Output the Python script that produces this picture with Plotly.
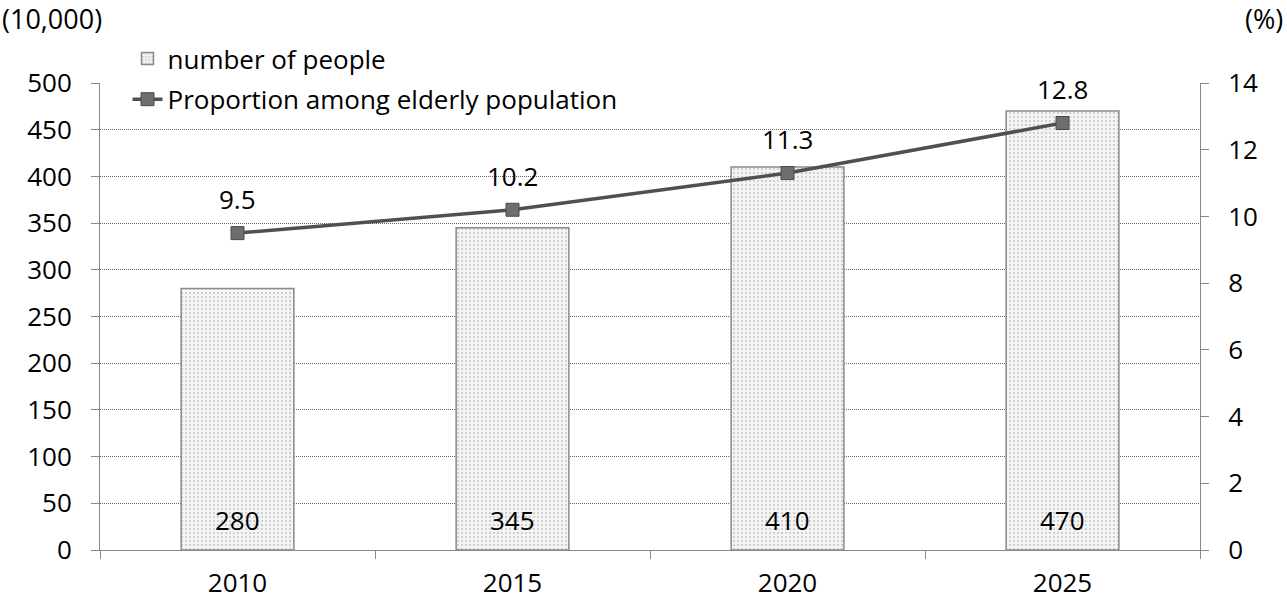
import plotly.graph_objects as go

years = ["2010", "2015", "2020", "2025"]
people = [280, 345, 410, 470]
proportion = [9.5, 10.2, 11.3, 12.8]
left_ticks = list(range(0, 501, 50))
right_ticks = list(range(0, 15, 2))

FONT = "Open Sans"
FS = 26
fig = go.Figure()

fig.add_trace(go.Bar(
    x=years, y=people, name="number of people",
    width=0.41,
    marker=dict(color="#eeeeee", line=dict(color="#8a8a8a", width=1.5),
                pattern=dict(shape=".", size=4, solidity=0.2, fgcolor="#c4c4c4",
                             bgcolor="#f4f4f4", fillmode="replace")),
    legendgroup="a",
))

fig.add_trace(go.Scatter(
    x=years, y=proportion, name="Proportion among elderly population",
    yaxis="y2", mode="lines+markers",
    line=dict(color="#505050", width=3.5),
    marker=dict(symbol="square", size=13, color="#6e6e6e", line=dict(color="#4a4a4a", width=1)),
    legendgroup="b",
))

annotations = []
for i, v in enumerate(people):
    annotations.append(dict(x=i, y=0, xref="x", yref="y", text=str(v), showarrow=False,
                            yanchor="bottom", yshift=10, font=dict(size=FS, color="#000", family=FONT)))
for i, v in enumerate(proportion):
    annotations.append(dict(x=i, y=v, xref="x", yref="y2", text=str(v), showarrow=False,
                            yanchor="bottom", yshift=14, font=dict(size=FS, color="#000", family=FONT)))
annotations.append(dict(x=-100/1100, y=1 + 65/467, xref="paper", yref="paper", text="(10,000)",
                        showarrow=False, xanchor="left", yanchor="middle", font=dict(size=27, family=FONT, color="#000")))
annotations.append(dict(x=1 + 85/1100, y=1 + 65/467, xref="paper", yref="paper", text="(%)",
                        showarrow=False, xanchor="right", yanchor="middle", font=dict(size=27, family=FONT, color="#000")))

fig.update_layout(
    width=1287, height=605,
    margin=dict(l=100, r=87, t=83, b=55),
    paper_bgcolor="white", plot_bgcolor="white",
    font=dict(family=FONT, size=FS, color="#000"),
    bargap=0.59,
    showlegend=True,
    legend=dict(x=0.025, y=1 + 48/467, xanchor="left", yanchor="top",
                bgcolor="rgba(0,0,0,0)", font=dict(size=FS, family=FONT),
                tracegroupgap=4, itemwidth=30),
    xaxis=dict(type="category", range=[-0.5, 3.5], autorange=False, automargin=False,
               showline=True, linecolor="#888", linewidth=1,
               ticks="outside", tickson="boundaries", ticklen=8, tickcolor="#888",
               showgrid=False, tickfont=dict(size=FS), tickangle=0, ticklabelstandoff=10),
    yaxis=dict(range=[0, 500], tickvals=left_ticks, showline=True, linecolor="#888",
               ticks="outside", ticklen=8, tickcolor="#888", ticklabelstandoff=14, automargin=False,
               showgrid=True, gridcolor="#666", griddash="1px,1px", gridwidth=1,
               zeroline=False, tickfont=dict(size=FS)),
    yaxis2=dict(range=[0, 14], tickvals=right_ticks, overlaying="y", side="right",
                showline=True, linecolor="#888", ticks="outside", ticklen=8, tickcolor="#888",
                ticklabelstandoff=14, automargin=False,
                showgrid=False, zeroline=False, tickfont=dict(size=FS)),
    annotations=annotations,
)

fig.write_html("out.html")
